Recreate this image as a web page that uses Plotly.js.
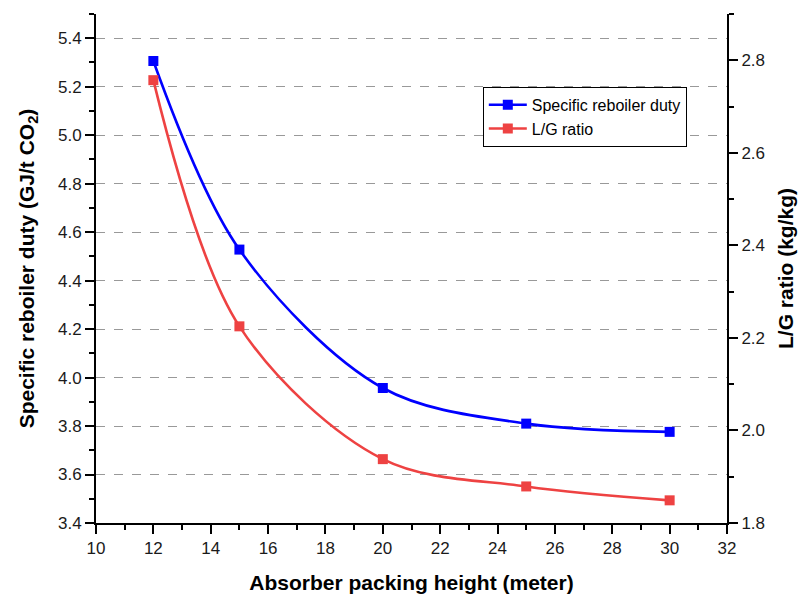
<!DOCTYPE html>
<html>
<head>
<meta charset="utf-8">
<script src="https://cdn.plot.ly/plotly-3.0.1.min.js"></script>
<style>html,body{margin:0;padding:0;background:#fff;}#chart{width:799px;height:594px;}</style>
</head>
<body>
<div id="chart"></div>
<script>
// Data
var packingHeight = [12, 15, 20, 25, 30];
var reboilerDuty = [5.306, 4.528, 3.957, 3.810, 3.776];
var lgRatio = [2.757, 2.225, 1.938, 1.879, 1.849];
var seriesNames = ['Specific reboiler duty', 'L/G ratio'];

var axisFont = {family: 'Arial, Liberation Sans, sans-serif', size: 17, color: '#1a1a1a'};
var titleFont = {family: 'Arial, Liberation Sans, sans-serif', size: 21, color: '#000', weight: 'bold'};

var traces = [
  {
    x: packingHeight, y: reboilerDuty, name: seriesNames[0],
    type: 'scatter', mode: 'lines+markers',
    line: {color: '#0000FF', width: 2.6, shape: 'spline', smoothing: 0.95},
    marker: {symbol: 'square', size: 10, color: '#0000FF'},
    xaxis: 'x', yaxis: 'y'
  },
  {
    x: packingHeight, y: lgRatio, name: seriesNames[1],
    type: 'scatter', mode: 'lines+markers',
    line: {color: '#EE4242', width: 2.6, shape: 'spline', smoothing: 0.95},
    marker: {symbol: 'square', size: 10, color: '#EE4242'},
    xaxis: 'x', yaxis: 'y2'
  }
];

var layout = {
  width: 799, height: 594,
  margin: {l: 96, r: 72, t: 14, b: 71, pad: 0},
  paper_bgcolor: '#fff', plot_bgcolor: '#fff',
  showlegend: true,
  legend: {
    x: 0.613, y: 0.857, xanchor: 'left', yanchor: 'top',
    bordercolor: '#000', borderwidth: 1, bgcolor: '#fff',
    font: {family: 'Arial, Liberation Sans, sans-serif', size: 16, color: '#000'},
    tracegroupgap: 0, itemwidth: 38
  },
  xaxis: {
    range: [10, 32], dtick: 2, tick0: 10,
    showgrid: false, zeroline: false,
    showline: true, linecolor: '#000', linewidth: 2,
    ticks: 'outside', ticklen: 9, tickwidth: 2, tickcolor: '#000',
    minor: {dtick: 1, ticks: 'outside', ticklen: 5, tickwidth: 2, tickcolor: '#000', showgrid: false},
    tickfont: axisFont,
    title: {text: 'Absorber packing height (meter)', font: titleFont, standoff: 20}
  },
  xaxis2: {
    overlaying: 'x', side: 'top', anchor: 'y', matches: 'x',
    range: [10, 32], dtick: 2, tick0: 10,
    showgrid: false, zeroline: false, showticklabels: false,
    showline: true, linecolor: '#000', linewidth: 2,
    ticks: 'inside', ticklen: 9, tickwidth: 2, tickcolor: '#000',
    minor: {dtick: 1, ticks: 'inside', ticklen: 5, tickwidth: 2, tickcolor: '#000', showgrid: false}
  },
  yaxis: {
    range: [3.4, 5.5], dtick: 0.2, tick0: 3.4, tickformat: '.1f',
    showgrid: true, gridcolor: '#999', griddash: 'dash', gridwidth: 1,
    zeroline: false,
    showline: true, linecolor: '#000', linewidth: 2,
    ticks: 'outside', ticklen: 9, tickwidth: 2, tickcolor: '#000',
    minor: {dtick: 0.1, ticks: 'outside', ticklen: 5, tickwidth: 2, tickcolor: '#000', showgrid: false},
    tickfont: axisFont,
    title: {text: 'Specific reboiler duty (GJ/t CO<sub>2</sub>)', font: titleFont, standoff: 18}
  },
  yaxis2: {
    overlaying: 'y', side: 'right', anchor: 'x',
    range: [1.8, 2.9], dtick: 0.2, tick0: 1.8, tickformat: '.1f',
    showgrid: false, zeroline: false,
    showline: true, linecolor: '#000', linewidth: 2,
    ticks: 'outside', ticklen: 9, tickwidth: 2, tickcolor: '#000',
    minor: {dtick: 0.1, ticks: 'outside', ticklen: 5, tickwidth: 2, tickcolor: '#000', showgrid: false},
    tickfont: axisFont,
    title: {text: 'L/G ratio (kg/kg)', font: titleFont, standoff: 14}
  }
};

Plotly.newPlot('chart', traces, layout, {displayModeBar: false, staticPlot: true});
</script>
</body>
</html>
